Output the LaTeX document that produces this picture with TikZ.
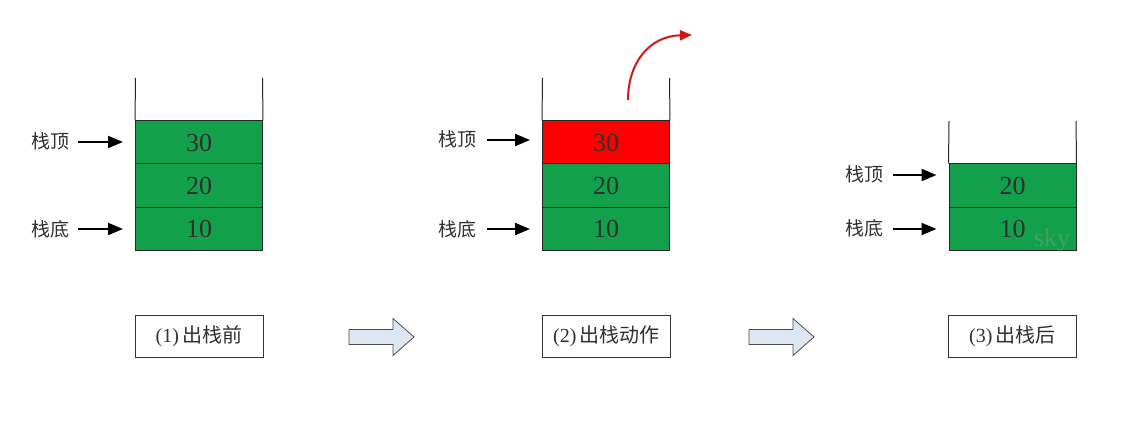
\documentclass[tikz,border=0pt]{standalone}
\usepackage{fontspec}
\setmainfont{Liberation Serif}
\newfontfamily\cjk{Noto Sans CJK SC}
\usetikzlibrary{arrows.meta}
\definecolor{stgreen}{HTML}{13A04A}
\definecolor{stred}{HTML}{FF0000}
\definecolor{curvered}{HTML}{D01818}
\definecolor{txt}{HTML}{303030}
\definecolor{barrow}{HTML}{DDE6F2}
\tikzset{
  cell/.style={draw=black!85, line width=1pt, minimum width=127pt, minimum height=43pt, inner sep=0pt, font=\fontsize{26}{26}\selectfont, text=txt},
  wall/.style={draw=black!85, line width=1pt},
  lbl/.style={font=\cjk\fontsize{19}{19}\selectfont, text=txt, inner sep=0pt},
  ptr/.style={-{Triangle[length=15pt,width=12pt]}, line width=2pt, black, shorten >=12pt},
  capbox/.style={draw=black!80, line width=1pt, minimum width=128pt, minimum height=42pt, inner sep=0pt, font=\fontsize{20}{20}\selectfont, text=txt},
  bigarrow/.style={draw=black!70, fill=barrow, line width=0.8pt, line join=miter}
}
\newcommand{\blockarrow}[2]{% #1 = left x, #2 = center y
  \draw[bigarrow] (#1,#2-7.5) -- ++(44,0) -- ++(0,-11) -- ++(21,18.5) -- ++(-21,18.5) -- ++(0,-11) -- ++(-44,0) -- cycle;}
\begin{document}
\begin{tikzpicture}[x=1pt,y=-1pt]
\useasboundingbox (0,0) rectangle (1131,422);
% ---------- stack 1 ----------
\node[cell, fill=stgreen] (a30) at (199,142.5) {30};
\node[cell, fill=stgreen] (a20) at (199,185.5) {20};
\node[cell, fill=stgreen] (a10) at (199,228.5) {10};
\coordinate (a1t) at (135.5,78);
\coordinate (a2t) at (262.5,78);
\draw[wall] (a1t) -- (a30.north west);
\draw[wall] (a2t) -- (a30.north east);
\node[lbl] (atop) at (50,141) {栈顶};
\node[lbl] (abot) at (50,229) {栈底};
\coordinate (as1) at (78,142);
\coordinate (as2) at (78,229);
\draw[ptr] (as1) -- (as1 -| a30.west);
\draw[ptr] (as2) -- (as2 -| a10.west);
\node[capbox] (cap1) at (199,336) {(1)\,{\cjk 出栈前}};
% ---------- stack 2 ----------
\node[cell, fill=stred] (b30) at (606,142.5) {30};
\node[cell, fill=stgreen] (b20) at (606,185.5) {20};
\node[cell, fill=stgreen] (b10) at (606,228.5) {10};
\coordinate (b1t) at (542.5,78);
\coordinate (b2t) at (669.5,78);
\draw[wall] (b1t) -- (b30.north west);
\draw[wall] (b2t) -- (b30.north east);
\node[lbl] (btop) at (457,139) {栈顶};
\node[lbl] (bbot) at (457,229) {栈底};
\coordinate (bs1) at (487,140);
\coordinate (bs2) at (487,229);
\draw[ptr] (bs1) -- (bs1 -| b30.west);
\draw[ptr] (bs2) -- (bs2 -| b10.west);
\coordinate (cs) at (628,100);
\coordinate (ce) at (692,35);
\draw[curvered, line width=2pt, -{Triangle[length=12pt,width=10pt]}] (cs) .. controls (628,62) and (650,36) .. (ce);
\node[capbox] (cap2) at (606.5,336) {(2)\,{\cjk 出栈动作}};
% ---------- stack 3 ----------
\node[cell, fill=stgreen] (c20) at (1012.5,185.5) {20};
\node[cell, fill=stgreen] (c10) at (1012.5,228.5) {10};
\coordinate (c1t) at (949,121);
\coordinate (c2t) at (1076,121);
\draw[wall] (c1t) -- (c20.north west);
\draw[wall] (c2t) -- (c20.north east);
\node[lbl] (ctop) at (864,174) {栈顶};
\node[lbl] (cbot) at (864,228) {栈底};
\coordinate (cs1) at (893,175);
\coordinate (cs2) at (893,229);
\draw[ptr] (cs1) -- (cs1 -| c20.west);
\draw[ptr] (cs2) -- (cs2 -| c10.west);
\node[capbox] (cap3) at (1012.5,336) {(3)\,{\cjk 出栈后}};
\node[font=\fontsize{26}{26}\selectfont, text=gray!70, text opacity=0.3, anchor=base] (wm) at (1052,246) {sky};
% ---------- transition arrows ----------
\blockarrow{349}{337}
\blockarrow{749}{337}
\end{tikzpicture}
\end{document}
